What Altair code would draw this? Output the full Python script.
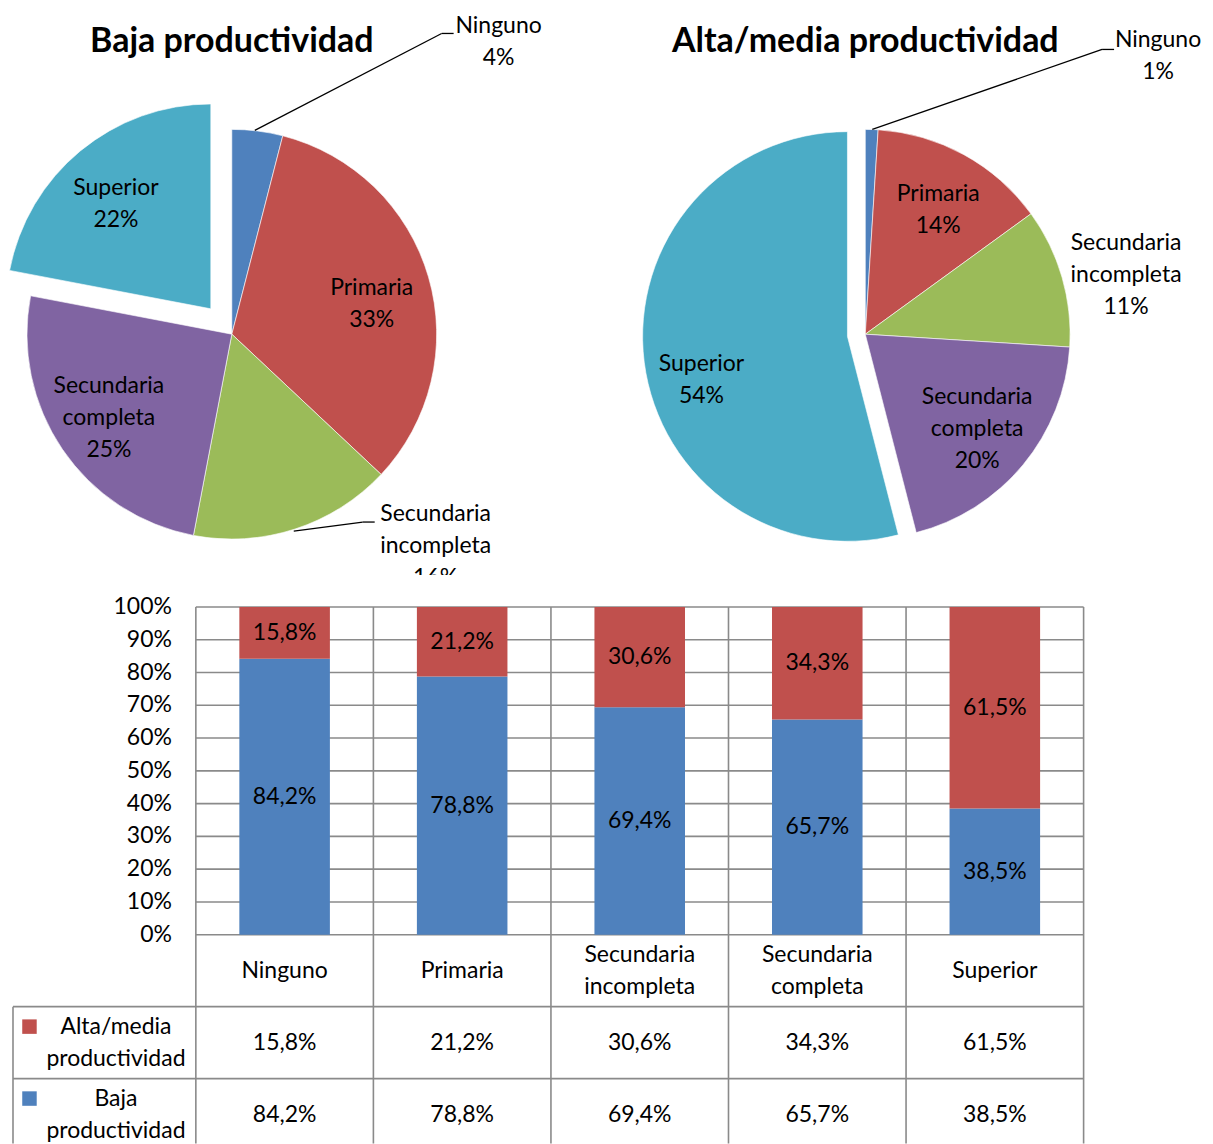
import math
import altair as alt
import pandas as pd

# ---------------- data ----------------
categories = ["Ninguno", "Primaria", "Secundaria incompleta", "Secundaria completa", "Superior"]
category_lines = ["Ninguno", "Primaria", "Secundaria\nincompleta", "Secundaria\ncompleta", "Superior"]

pie_baja = [4, 33, 16, 25, 22]      # % of "Baja productividad"
pie_alta = [1, 14, 11, 20, 54]      # % of "Alta/media productividad"

bar_alta = [15.8, 21.2, 30.6, 34.3, 61.5]
bar_baja = [84.2, 78.8, 69.4, 65.7, 38.5]

series_names = ["Alta/media productividad", "Baja productividad"]
series_lines = ["Alta/media\nproductividad", "Baja\nproductividad"]
y_ticks = [0, 10, 20, 30, 40, 50, 60, 70, 80, 90, 100]

pie_titles = ["Baja productividad", "Alta/media productividad"]

# ---------------- styles / layout ----------------
pie_colors = ["#4F81BD", "#C0504D", "#9BBB59", "#8064A2", "#4BACC6"]
series_colors = ["#C0504D", "#4F81BD"]
grid_color = "#8A8A8A"
FONT = "Lato"
FS = 23
LH = 32

W = 1197          # whole drawing area
H = 1136
PIE_R = 205
PIE_CY = 326      # pie centres, from top
TOP_H = 567       # height of the pie band

# first-line positions of the labels relative to pie centre (x right, y up)
baja_layout = dict(cx=223, explode=33,
                   labels=[(267, 308), (140, 46), (204, -180), (-123, -52), (-116, 146)],
                   leaders=[[(23, 204), (210, 301), (222, 301)],
                            [(62, -197), (131, -188), (143, -188)]])
alta_layout = dict(cx=857, explode=18,
                   labels=[(293, 294), (73, 140), (261, 91), (112, -63), (-164, -30)],
                   leaders=[[(7, 205), (237, 285), (249, 285)]])


def fmt_pct(v):
    return f"{v:.1f}".replace(".", ",") + "%"


def pie_layer(values, title, lay):
    cx = lay["cx"]
    xs = alt.Scale(domain=[-cx, W - cx], range=[0, W], nice=False, zero=False)
    ys = alt.Scale(domain=[-(H - PIE_CY), PIE_CY], nice=False, zero=False)

    rows, cum = [], 0
    for c, v in zip(categories, values):
        rows.append(dict(cat=c, v=v, start=cum, end=cum + v))
        cum += v
    df = pd.DataFrame(rows)

    E = lay["explode"]
    arcs = alt.Chart(df).transform_calculate(
        ex=f"datum.cat == 'Superior' ? {E} * sin(PI * (datum.start + datum.end) / 100) : 0",
        ey=f"datum.cat == 'Superior' ? {E} * cos(PI * (datum.start + datum.end) / 100) : 0",
    ).mark_arc(outerRadius=PIE_R, stroke="white", strokeWidth=0.6).encode(
        theta=alt.Theta("start:Q", scale=alt.Scale(domain=[0, 100], range=[0, 2 * math.pi])),
        theta2="end:Q",
        x=alt.X("ex:Q", scale=xs, axis=None),
        y=alt.Y("ey:Q", scale=ys, axis=None),
        color=alt.Color("cat:N", scale=alt.Scale(domain=categories, range=pie_colors), legend=None),
    )

    lab_df = pd.DataFrame([
        dict(t=f"{category_lines[i]}\n{values[i]}%", lx=lay["labels"][i][0], ly=lay["labels"][i][1])
        for i in range(len(categories))
    ])
    labels = alt.Chart(lab_df).mark_text(
        font=FONT, fontSize=FS, lineHeight=LH, lineBreak="\n", align="center",
        baseline="middle", color="black"
    ).encode(x=alt.X("lx:Q", scale=xs, axis=None), y=alt.Y("ly:Q", scale=ys, axis=None), text="t:N")

    seg = []
    for pts in lay["leaders"]:
        for a, b in zip(pts[:-1], pts[1:]):
            seg.append(dict(x1=a[0], y1=a[1], x2=b[0], y2=b[1]))
    leaders = alt.Chart(pd.DataFrame(seg)).mark_rule(color="black", strokeWidth=1.3).encode(
        x=alt.X("x1:Q", scale=xs, axis=None), y=alt.Y("y1:Q", scale=ys, axis=None),
        x2="x2:Q", y2="y2:Q")

    tdf = pd.DataFrame([dict(t=title, tx=0, ty=PIE_CY - 34)])
    ttl = alt.Chart(tdf).mark_text(font=FONT, fontSize=34, fontWeight="bold", color="black",
                                   align="center", baseline="middle").encode(
        x=alt.X("tx:Q", scale=xs, axis=None), y=alt.Y("ty:Q", scale=ys, axis=None), text="t:N")

    return alt.layer(arcs, leaders, labels, ttl)


pie1 = pie_layer(pie_baja, pie_titles[0], baja_layout)
pie2 = pie_layer(pie_alta, pie_titles[1], alta_layout)

# ---------------- bottom: stacked bars + data table ----------------
COL_PX = 177.7     # px per category column
UNIT_PX = 328.0    # px per 100 %
X0_PX = 187        # where column 0 starts (from left of drawing)
Y1_PX = 599        # where 100 % sits (from top of drawing)
ROW_H = 72 / UNIT_PX
LABEL_W = 183 / COL_PX
BAR_W = 0.51
ncat = len(categories)

x_min = -X0_PX / COL_PX
x_max = (W - X0_PX) / COL_PX
y_max = 1 + Y1_PX / UNIT_PX
y_min = y_max - H / UNIT_PX
y_band_top = 1 + (Y1_PX - TOP_H) / UNIT_PX

bx = alt.Scale(domain=[x_min, x_max], range=[0, W], nice=False, zero=False)
by = alt.Scale(domain=[y_min, y_max], nice=False, zero=False)


def X(f):
    return alt.X(f, scale=bx, axis=None)


def Y(f):
    return alt.Y(f, scale=by, axis=None)


def first_line(y, text):
    n = text.count("\n") + 1
    return y + (n - 1) * (LH / 2) / UNIT_PX


bg = alt.Chart(pd.DataFrame([dict(xa=x_min, xb=x_max, ya=y_min, yb=y_band_top)])).mark_rect(
    color="white").encode(x=X("xa:Q"), x2="xb:Q", y=Y("ya:Q"), y2="yb:Q")

bar_rows, bar_lab = [], []
for i in range(ncat):
    b = bar_baja[i] / 100
    a = bar_alta[i] / 100
    bar_rows.append(dict(s=series_names[1], xa=i + (1 - BAR_W) / 2, xb=i + (1 + BAR_W) / 2, y0=0, y1=b))
    bar_rows.append(dict(s=series_names[0], xa=i + (1 - BAR_W) / 2, xb=i + (1 + BAR_W) / 2, y0=b, y1=b + a))
    bar_lab.append(dict(t=fmt_pct(bar_baja[i]), x=i + 0.5, y=b / 2))
    bar_lab.append(dict(t=fmt_pct(bar_alta[i]), x=i + 0.5, y=b + a / 2))

color_sc = alt.Scale(domain=series_names, range=series_colors)

lines = []
for t in y_ticks:
    lines.append(dict(x1=0, x2=ncat, y1=t / 100, y2=t / 100))
for i in range(ncat + 1):
    lines.append(dict(x1=i, x2=i, y1=y_min, y2=1))
for r in range(1, 4):
    lines.append(dict(x1=-LABEL_W, x2=ncat, y1=-r * ROW_H, y2=-r * ROW_H))
lines.append(dict(x1=-LABEL_W, x2=-LABEL_W, y1=y_min, y2=-ROW_H))

grid = alt.Chart(pd.DataFrame(lines)).mark_rule(color=grid_color, strokeWidth=1.6).encode(
    x=X("x1:Q"), x2="x2:Q", y=Y("y1:Q"), y2="y2:Q")

bars = alt.Chart(pd.DataFrame(bar_rows)).mark_bar().encode(
    x=X("xa:Q"), x2="xb:Q", y=Y("y0:Q"), y2="y1:Q",
    color=alt.Color("s:N", scale=color_sc, legend=None))

txt_kw = dict(font=FONT, fontSize=FS, lineHeight=LH, lineBreak="\n", color="black", baseline="middle")

bar_text = alt.Chart(pd.DataFrame(bar_lab)).mark_text(align="center", **txt_kw).encode(
    x=X("x:Q"), y=Y("y:Q"), text="t:N")

ytick_df = pd.DataFrame([dict(t=f"{t}%", x=-0.135, y=t / 100) for t in y_ticks])
ytext = alt.Chart(ytick_df).mark_text(align="right", **txt_kw).encode(
    x=X("x:Q"), y=Y("y:Q"), text="t:N")

head_df = pd.DataFrame([dict(t=category_lines[i], x=i + 0.5, y=first_line(-ROW_H / 2, category_lines[i]))
                        for i in range(ncat)])
head = alt.Chart(head_df).mark_text(align="center", **txt_kw).encode(x=X("x:Q"), y=Y("y:Q"), text="t:N")

cell_rows = []
for i in range(ncat):
    cell_rows.append(dict(t=fmt_pct(bar_alta[i]), x=i + 0.5, y=-1.5 * ROW_H))
    cell_rows.append(dict(t=fmt_pct(bar_baja[i]), x=i + 0.5, y=-2.5 * ROW_H))
cells = alt.Chart(pd.DataFrame(cell_rows)).mark_text(align="center", **txt_kw).encode(
    x=X("x:Q"), y=Y("y:Q"), text="t:N")

rowlab_df = pd.DataFrame([
    dict(t=series_lines[k], s=series_names[k], x=-0.45,
         y=first_line(-(1.5 + k) * ROW_H, series_lines[k]),
         sx=-0.937, sy=-(1.5 + k) * ROW_H + 16 / UNIT_PX)
    for k in range(2)
])
rowlab = alt.Chart(rowlab_df).mark_text(align="center", **txt_kw).encode(
    x=X("x:Q"), y=Y("y:Q"), text="t:N")
swatch = alt.Chart(rowlab_df).mark_square(size=210, opacity=1, filled=True).encode(
    x=X("sx:Q"), y=Y("sy:Q"), color=alt.Color("s:N", scale=color_sc, legend=None))

bottom = alt.layer(bg, grid, bars, bar_text, ytext, head, cells, rowlab, swatch)

chart = alt.layer(pie1, pie2, bottom).resolve_scale(
    x="independent", y="independent", color="independent"
).properties(width=W, height=H, padding=0).configure_view(stroke=None)

chart.save("out.html", embed_options={"renderer": "svg", "actions": False})
